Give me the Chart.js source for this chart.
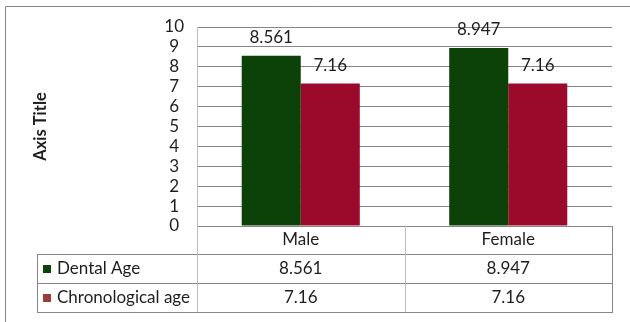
<!DOCTYPE html>
<html>
<head>
<meta charset="utf-8">
<script src="https://cdn.jsdelivr.net/npm/chart.js@4/dist/chart.umd.min.js"></script>
<style>
  html, body { margin: 0; padding: 0; background: #fff; }
  #wrap { width: 630px; height: 322px; position: relative; }
</style>
</head>
<body>
<div id="wrap"><canvas id="c"></canvas></div>
<script>
const categories = ["Male", "Female"];
const seriesNames = ["Dental Age", "Chronological age"];
const dentalAge = [8.561, 8.947];
const chronologicalAge = [7.16, 7.16];
const dentalLabels = ["8.561", "8.947"];
const chronoLabels = ["7.16", "7.16"];
const barColors = ["#0c4207", "#9b0a2a"];
const legendColors = ["#0d4307", "#9e3b3b"];

const FONT = "Lato";
const FS = 17;
const TXT = "#1e1e1e";
const GRID = "#878787";
const LIGHT = "#bdbdbd";

const labelPlugin = {
  id: "labels",
  afterDatasetsDraw(chart) {
    const ctx = chart.ctx;
    const labels = [dentalLabels, chronoLabels];
    ctx.save();
    ctx.font = FS + "px " + FONT;
    ctx.fillStyle = TXT;
    ctx.textAlign = "center";
    ctx.textBaseline = "middle";
    chart.data.datasets.forEach((ds, i) => {
      const meta = chart.getDatasetMeta(i);
      meta.data.forEach((bar, j) => {
        ctx.fillText(labels[i][j], bar.x, bar.y - 18.5);
      });
    });
    ctx.restore();
  }
};

const tablePlugin = {
  id: "table",
  afterDraw(chart) {
    const ctx = chart.ctx;
    const a = chart.chartArea;
    const xs = chart.scales.x;
    const L = 37, top = a.bottom, r0 = a.bottom + 28, r1 = r0 + 29, r2 = r1 + 29;
    const mid = (xs.getPixelForValue(0) + xs.getPixelForValue(1)) / 2;
    ctx.save();
    ctx.lineWidth = 1;
    ctx.strokeStyle = GRID;
    ctx.beginPath();
    ctx.moveTo(5.5, 330); ctx.lineTo(5.5, 6.5); ctx.lineTo(640, 6.5);
    ctx.stroke();
    const hl = (y, x0, x1) => { ctx.beginPath(); ctx.moveTo(x0, Math.round(y) + 0.5); ctx.lineTo(x1, Math.round(y) + 0.5); ctx.stroke(); };
    const vl = (x, y0, y1) => { ctx.beginPath(); ctx.moveTo(Math.round(x) + 0.5, y0); ctx.lineTo(Math.round(x) + 0.5, y1); ctx.stroke(); };
    ctx.strokeStyle = GRID;
    hl(r0, L, a.right + 1);
    hl(r1, L, a.right + 1);
    hl(r2, L, a.right + 1);
    vl(L, r0, r2 + 1);
    vl(a.right, top, r2 + 1);
    ctx.strokeStyle = LIGHT;
    vl(a.left, top, r2);
    vl(mid, top, r2);
    ctx.font = FS + "px " + FONT;
    ctx.fillStyle = TXT;
    ctx.textBaseline = "middle";
    ctx.textAlign = "center";
    const c0 = (top + r0) / 2, c1 = (r0 + r1) / 2, c2 = (r1 + r2) / 2;
    categories.forEach((cat, j) => {
      const cx = xs.getPixelForValue(j);
      ctx.fillText(cat, cx, c0);
      ctx.fillText(dentalLabels[j], cx, c1);
      ctx.fillText(chronoLabels[j], cx, c2);
    });
    ctx.textAlign = "left";
    [c1, c2].forEach((cy, i) => {
      ctx.fillStyle = legendColors[i];
      ctx.fillRect(43, Math.round(cy) - 4, 8, 8);
      ctx.fillStyle = TXT;
      ctx.fillText(seriesNames[i], 57, cy);
    });
    ctx.restore();
  }
};

new Chart(document.getElementById("c"), {
  type: "bar",
  data: {
    labels: categories,
    datasets: [
      { label: seriesNames[0], data: dentalAge, backgroundColor: barColors[0], borderWidth: 0 },
      { label: seriesNames[1], data: chronologicalAge, backgroundColor: barColors[1], borderWidth: 0 }
    ]
  },
  options: {
    responsive: true,
    maintainAspectRatio: false,
    animation: false,
    devicePixelRatio: 1,
    layout: { padding: { top: 27, right: 18, bottom: 96, left: 0 } },
    datasets: { bar: { categoryPercentage: 0.569, barPercentage: 1.0 } },
    plugins: { legend: { display: false }, tooltip: { enabled: false } },
    scales: {
      x: { display: false, grid: { display: false } },
      y: {
        min: 0, max: 10,
        afterFit: s => { s.width = 197; },
        ticks: { stepSize: 1, autoSkip: false, color: TXT, font: { family: FONT, size: FS }, crossAlign: "center", padding: 13 },
        grid: { color: GRID, lineWidth: 1, drawTicks: false },
        border: { display: true, color: LIGHT, width: 1 },
        title: { display: true, text: "Axis Title", color: TXT, font: { family: FONT, size: 16.5, weight: "bold" }, padding: { top: 31, bottom: 0 } }
      }
    }
  },
  plugins: [labelPlugin, tablePlugin]
});
</script>
</body>
</html>
